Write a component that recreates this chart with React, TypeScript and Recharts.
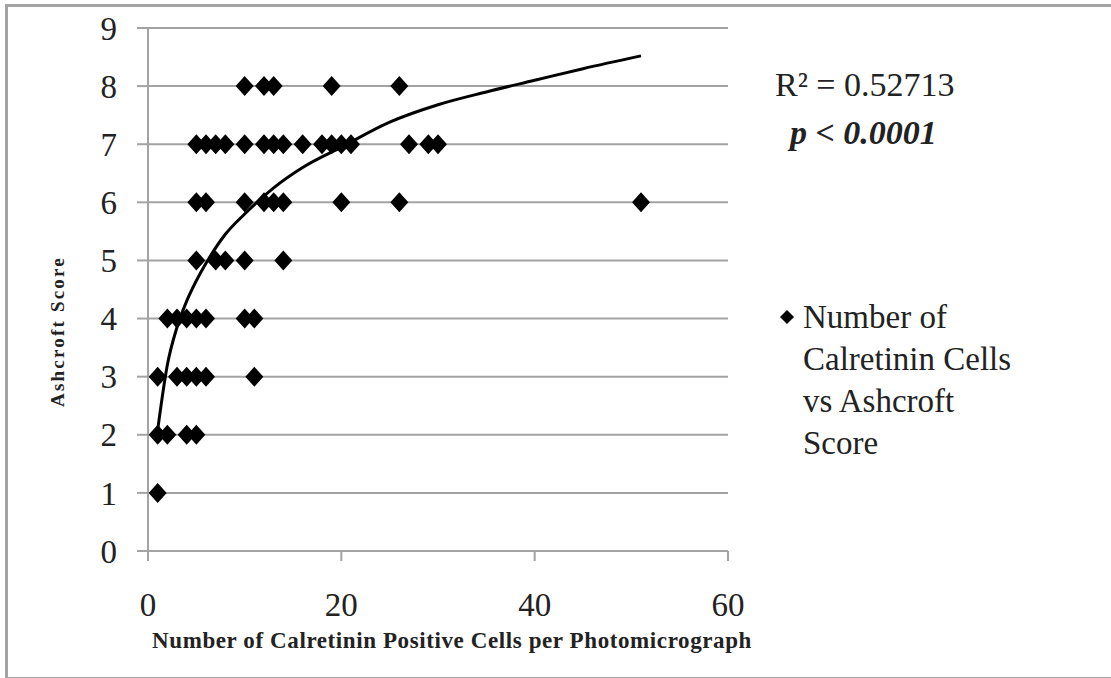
import React from 'react';
import { ComposedChart, Scatter, Line, XAxis, YAxis, CartesianGrid, Label } from 'recharts';

// cells counted per photomicrograph, grouped by Ashcroft score
const cellsScore1 = [1];
const cellsScore2 = [1, 2, 4, 5];
const cellsScore3 = [1, 3, 4, 5, 6, 11];
const cellsScore4 = [2, 3, 4, 5, 6, 10, 11];
const cellsScore5 = [5, 7, 8, 10, 14];
const cellsScore6 = [5, 6, 10, 12, 13, 14, 20, 26, 51];
const cellsScore7 = [5, 6, 7, 8, 10, 12, 13, 14, 16, 18, 19, 20, 21, 27, 29, 30];
const cellsScore8 = [10, 12, 13, 19, 26];

// logarithmic trend line
const trendX = [1, 2, 3, 4, 5, 6, 8, 10, 13, 16, 20, 25, 30, 35, 40, 45, 51];
const trendY = [2.08, 3.2, 3.85, 4.3, 4.65, 4.95, 5.45, 5.8, 6.25, 6.6, 6.95, 7.38, 7.68, 7.9, 8.1, 8.3, 8.52];

const yTicks = [0, 1, 2, 3, 4, 5, 6, 7, 8, 9];
const xTicks = [0, 20, 40, 60];

const groups: [number, number[]][] = [
  [1, cellsScore1], [2, cellsScore2], [3, cellsScore3], [4, cellsScore4],
  [5, cellsScore5], [6, cellsScore6], [7, cellsScore7], [8, cellsScore8],
];
const points = groups.flatMap(([score, cells]) => cells.map((c) => ({ x: c, y: score })));
const trend = trendX.map((x, i) => ({ x, y: trendY[i] }));

const SERIF = '"Liberation Serif", "Times New Roman", serif';
const GRAY = '#a3a3a3';

const Diamond = (props: any) => {
  const { cx, cy } = props;
  if (cx == null || cy == null) return null;
  return <path d={`M${cx},${cy - 10}L${cx + 9},${cy}L${cx},${cy + 10}L${cx - 9},${cy}Z`} fill="#000" />;
};

export default function App() {
  return (
    <div style={{ position: 'absolute', left: 0, top: 0, width: 1111, height: 678, overflow: 'hidden', background: '#fff' }}>
      <div style={{ position: 'absolute', left: 5, top: 4, width: 1130, height: 670, border: `3px solid ${GRAY}` }} />
      <div style={{ position: 'absolute', left: 0, top: 0 }}>
        <ComposedChart width={1111} height={678} margin={{ top: 28, right: 383, bottom: 0, left: 0 }}>
          <CartesianGrid vertical={false} stroke={GRAY} strokeWidth={2} />
          <XAxis
            type="number"
            dataKey="x"
            domain={[0, 60]}
            ticks={xTicks}
            interval={0}
            height={127}
            stroke={GRAY}
            strokeWidth={2}
            tickSize={10}
            tickMargin={32}
            tick={{ fill: '#222', fontSize: 33, fontFamily: SERIF }}
          >
            <Label
              value="Number of Calretinin Positive Cells per Photomicrograph"
              position="insideBottom"
              offset={30}
              dx={14}
              style={{ fontFamily: SERIF, fontWeight: 'bold', fontSize: 23, letterSpacing: 0.6, fill: '#222' }}
            />
          </XAxis>
          <YAxis
            type="number"
            dataKey="y"
            domain={[0, 9]}
            ticks={yTicks}
            interval={0}
            width={148}
            stroke={GRAY}
            strokeWidth={2}
            tickSize={11}
            tickMargin={20}
            tick={{ fill: '#222', fontSize: 33, fontFamily: SERIF }}
          >
            <Label
              value="Ashcroft Score"
              angle={-90}
              position="insideLeft"
              offset={57}
              dy={42}
              style={{ fontFamily: SERIF, fontWeight: 'bold', fontSize: 19, letterSpacing: 2.2, fill: '#222', textAnchor: 'middle' }}
            />
          </YAxis>
          <Scatter
            name="Number of Calretinin Cells vs Ashcroft Score"
            data={points}
            dataKey="y"
            fill="#000"
            shape={<Diamond />}
            isAnimationActive={false}
          />
          <Line
            data={trend}
            dataKey="y"
            type="monotone"
            stroke="#000"
            strokeWidth={3}
            dot={false}
            activeDot={false}
            isAnimationActive={false}
          />
        </ComposedChart>
      </div>
      <div style={{ position: 'absolute', left: 778, top: 296, fontFamily: SERIF, fontSize: 33, lineHeight: '42px', color: '#222' }}>
        <svg width={14} height={14} style={{ position: 'absolute', left: 2, top: 14 }}>
          <path d="M7,0L14,7L7,14L0,7Z" fill="#000" />
        </svg>
        <div style={{ marginLeft: 25 }}>
          Number of<br />Calretinin Cells<br />vs Ashcroft<br />Score
        </div>
      </div>
      <div style={{ position: 'absolute', left: 775, top: 64, fontFamily: SERIF, fontSize: 34, lineHeight: '42px', color: '#222' }}>
        R² = 0.52713
      </div>
      <div style={{ position: 'absolute', left: 790, top: 112, fontFamily: SERIF, fontSize: 34, lineHeight: '42px', fontWeight: 'bold', fontStyle: 'italic', color: '#222' }}>
        p &lt; 0.0001
      </div>
    </div>
  );
}
